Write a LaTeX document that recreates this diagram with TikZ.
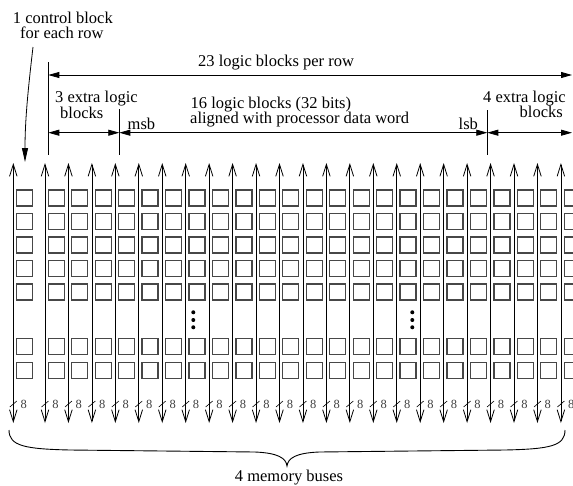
\documentclass[tikz,border=0pt]{standalone}
\usepackage{fontspec}
\setmainfont{Liberation Serif}
\usetikzlibrary{arrows.meta}
\begin{document}
\begin{tikzpicture}[x=1pt,y=-1pt,
  txt/.style={font=\fontsize{16.5}{16.5}\selectfont, inner sep=0pt, anchor=base west},
  bus/.style={line width=0.8pt, {Straight Barb[length=12pt,width=7.5pt]}-{Straight Barb[length=12pt,width=7.5pt]}},
  blk/.style={draw=black!72, line width=1.3pt, minimum size=16pt, inner sep=0pt},
  dimarrow/.style={line width=0.8pt, {Triangle[length=11pt,width=6pt]}-{Triangle[length=11pt,width=6pt]}},
  ticky/.style={line width=0.8pt},
  lbl/.style={font=\fontsize{12.5}{12.5}\selectfont, text=black!75, inner sep=0pt},
  dotty/.style={fill=black}
]
\useasboundingbox (0,0) rectangle (573,485);
\clip (0,0) rectangle (573,485);

% bus lines
\foreach \k in {0,...,23}{
  \pgfmathsetmacro{\xx}{\k==0 ? 13.3 : 21.55+23.45*\k}
  \coordinate (t\k) at (\xx,163);
  \coordinate (b\k) at (\xx,423);
  \draw[bus] (t\k) -- (b\k);
  \coordinate (s1\k) at (\xx-3.5,407);
  \coordinate (s2\k) at (\xx+3.5,401);
  \draw[line width=0.6pt] (s1\k) -- (s2\k);
  \node[lbl] (n\k) at (\xx+10.4,404) {8};
  \foreach \r/\yy in {1/198,2/221.5,3/245,4/268.5,5/292,6/346.3,7/370.3}{
    \node[blk] (box\k-\r) at (\xx+11.3,\yy) {};
  }
}

% dots
\foreach \yy [count=\j] in {312.3,320,327.3}{
  \fill[dotty] (193.3,\yy) circle (2pt);
  \fill[dotty] (412.3,\yy) circle (2pt);
}

% control block label and arrow
\node[txt] (ctl1) at (12.7,23.5) {1 control block};
\node[txt] (ctl2) at (20,38.5) {for each row};
\coordinate (ca) at (33,47);
\coordinate (cb) at (25,162);
\draw[line width=0.8pt, -{Triangle[length=14pt,width=6pt]}] (ca) .. controls (28,90) and (25,120) .. (cb);

% ticks
\coordinate (tkA1) at (48.3,62);  \coordinate (tkA2) at (48.3,155);
\coordinate (tkM1) at (119.3,109); \coordinate (tkM2) at (119.3,155);
\coordinate (tkL1) at (487.3,110); \coordinate (tkL2) at (487.3,155);
\draw[ticky] (tkA1) -- (tkA2);
\draw[ticky] (tkM1) -- (tkM2);
\draw[ticky] (tkL1) -- (tkL2);

% dimension arrows
\coordinate (d23a) at (48.3,75);   \coordinate (d23b) at (572,75);
\coordinate (d3a) at (48.3,132.7); \coordinate (d3b) at (119.3,132.7);
\coordinate (d16b) at (487.3,132.7);
\coordinate (d4b) at (572,132.7);
\draw[dimarrow] (d23a) -- (d23b);
\draw[dimarrow] (d3a) -- (d3b);
\draw[dimarrow] (d3b) -- (d16b);
\draw[dimarrow] (d16b) -- (d4b);

\node[txt] (l23) at (198,66) {23 logic blocks per row};
\node[txt] (l3a) at (55,102) {3 extra logic};
\node[txt] (l3b) at (60,118) {blocks};
\node[txt] (msb) at (127.5,129) {msb};
\node[txt] (l16a) at (190.5,108) {16 logic blocks (32 bits)};
\node[txt] (l16b) at (190,123.5) {aligned with processor data word};
\node[txt] (lsb) at (458.5,129) {lsb};
\node[txt] (l4a) at (483,102) {4 extra logic};
\node[txt, anchor=base east] (l4b) at (563,117.5) {blocks};

% brace
\draw[line width=0.9pt] (9,430) .. controls (9,446) and (25,449) .. (70,450) -- (255,452)
  .. controls (278,453) and (286,458) .. (287,466)
  .. controls (288,458) and (296,453) .. (319,452) -- (505,450)
  .. controls (550,449) and (565,446) .. (565,430);
\node[txt, anchor=base] (mem) at (289,481) {4 memory buses};
\end{tikzpicture}
\end{document}
